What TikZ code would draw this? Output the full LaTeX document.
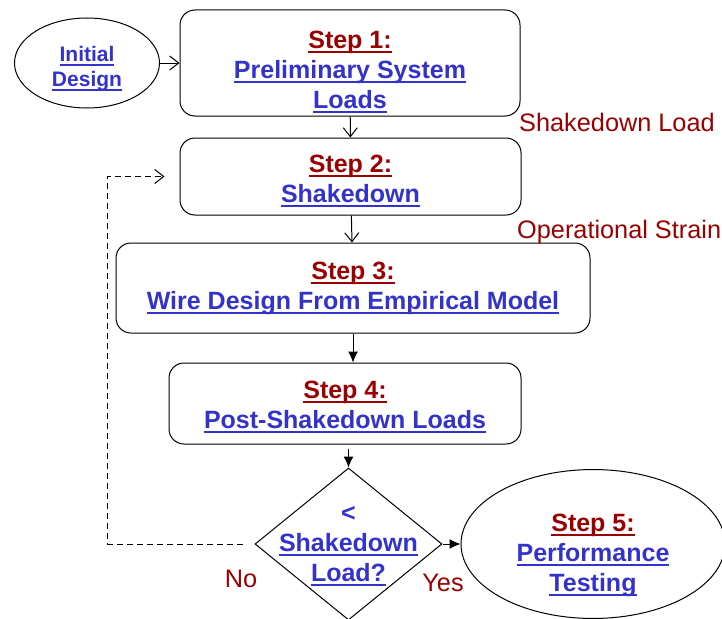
\documentclass[tikz,border=0pt]{standalone}
\usepackage{fontspec}
\setmainfont{Liberation Sans}
\usetikzlibrary{arrows.meta, shapes.geometric, positioning, calc}
\definecolor{stepred}{RGB}{153,0,0}
\definecolor{linkblue}{RGB}{51,51,204}
\newcommand{\undertext}[1]{\leavevmode\setbox0\hbox{#1}\rlap{\rule[-4.5pt]{\wd0}{2pt}}\box0}
\newcommand{\stepname}[1]{\textcolor{stepred}{\undertext{#1}}}
\newcommand{\linktext}[1]{\textcolor{linkblue}{\undertext{#1}}}
\newcommand{\topgap}[1]{\rule{0pt}{#1}}

\begin{document}
\begin{tikzpicture}[x=1pt, y=-1pt,
    stepbox/.style={draw, rounded corners=15pt, line width=1pt, align=center, inner sep=0pt, font=\bfseries\fontsize{25}{30}\selectfont},
    endnode/.style={draw, ellipse, line width=1pt, align=center, inner sep=0pt, font=\bfseries\fontsize{25}{30}\selectfont},
    decision/.style={draw, diamond, line width=1pt, inner sep=0pt, minimum width=187pt, minimum height=152pt},
    note/.style={inner sep=0pt, text=stepred, font=\fontsize{25.3}{30}\selectfont},
    openarrow/.style={-{Straight Barb[length=9pt, width=14pt]}, line width=1pt},
    solidarrow/.style={-{Latex[length=11pt, width=10pt]}, line width=1pt},
    loopback/.style={-{Straight Barb[length=9pt, width=14pt]}, line width=1pt, dash pattern=on 6pt off 4pt}]
        \useasboundingbox (0,0) rectangle (722,618);

        % start and steps
        \node[endnode, minimum width=145pt, minimum height=90pt, font=\bfseries\fontsize{21}{25}\selectfont] (init) at (87,63) {\topgap{26pt}\linktext{Initial}\\ \linktext{Design}};
        \node[stepbox, minimum width=340pt, minimum height=106pt] (step1) at (350,63) {\topgap{36pt}\stepname{Step 1:}\\ \linktext{Preliminary System}\\ \linktext{Loads}};
        \node[stepbox, minimum width=341pt, minimum height=77pt] (step2) at (350.5,176.5) {\topgap{26pt}\stepname{Step 2:}\\ \linktext{Shakedown}};
        \node[stepbox, minimum width=474pt, minimum height=90pt] (step3) at (353,288) {\stepname{Step 3:}\\ \linktext{Wire Design From Empirical Model}};
        \node[stepbox, minimum width=352pt, minimum height=81pt] (step4) at (345,403.5) {\topgap{24pt}\stepname{Step 4:}\\ \linktext{Post-Shakedown Loads}};

        % check and final step
        \node[decision] (dec) at (348.5,544) {};
        \node[align=center, inner sep=0pt, font=\bfseries\fontsize{25}{30}\selectfont] (dectext) at (dec) {\topgap{20pt}\textcolor{linkblue}{<}\\ \linktext{Shakedown}\\ \linktext{Load?}};
        \node[endnode, minimum width=264pt, minimum height=124pt] (step5) at (593,544) {\topgap{40pt}\stepname{Step 5:}\\ \linktext{Performance}\\ \linktext{Testing}};

        % outputs passed on
        \node[note, anchor=west] (shakelabel) at (519,122) {Shakedown Load};
        \node[note, anchor=west] (strainlabel) at (517,232) {Operational Strain};
        \node[note] (nolabel) at (241,579) {No};
        \node[note] (yeslabel) at (443,583) {Yes};

        % connectors
        \draw[openarrow] (init) -- (step1);
        \draw[openarrow] (step1) -- (step2);
        \draw[openarrow] (step2) -- (step3);
        \draw[solidarrow] (step3.south) -- (step3.south |- step4.north);
        \draw[solidarrow] ([yshift=-4pt]dec.north |- step4.south) -- (dec.north);
        \draw[solidarrow] (dec.east) -- (step5);

        % back to shakedown
        \coordinate (noout) at ([xshift=-12pt]dec.west);
        \coordinate (retry) at ([xshift=-15pt]step2.west);
        \draw[loopback] (noout) -- ++(-135,0) |- (retry);
\end{tikzpicture}
\end{document}
